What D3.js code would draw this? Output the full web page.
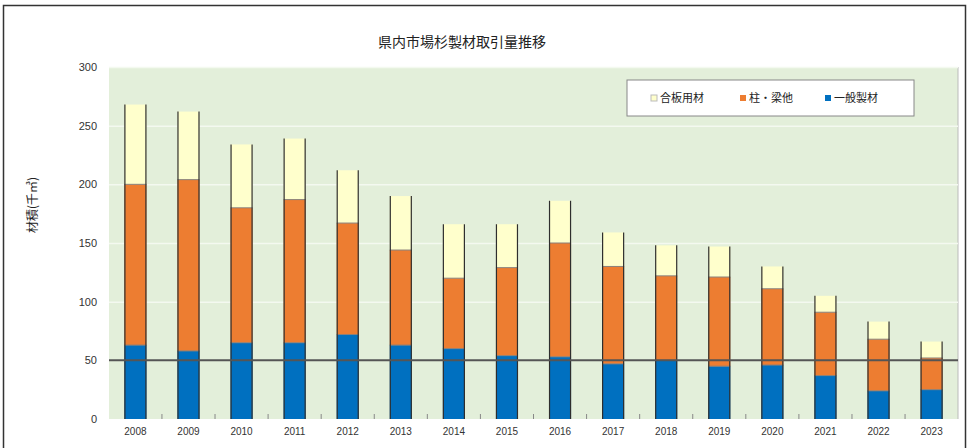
<!DOCTYPE html>
<html lang="ja">
<head>
<meta charset="utf-8">
<script src="https://cdn.jsdelivr.net/npm/d3@7"></script>
<style>
  html, body { margin: 0; padding: 0; background: #fff; }
  svg { display: block; font-family: "Noto Sans CJK JP", "Noto Sans", sans-serif; }
</style>
</head>
<body>
<svg id="chart" width="969" height="448"></svg>
<script>
// Years on the x axis
const years = ["2008","2009","2010","2011","2012","2013","2014","2015",
               "2016","2017","2018","2019","2020","2021","2022","2023"];
// Volumes per use class (千㎥), bottom to top of each stack
const ippanSeizai = [63, 58, 65, 65, 72, 63, 60, 54, 53, 47, 50, 45, 46, 37, 24, 25];
const hashiraHari = [137, 146, 115, 122, 95, 81, 60, 75, 97, 83, 72, 76, 65, 54, 44, 27];
const gouhanYouzai = [68, 58, 54, 52, 45, 46, 46, 37, 36, 29, 26, 26, 19, 14, 15, 14];
// Series names in stack order
const seriesNames = ["一般製材", "柱・梁他", "合板用材"];
const seriesColors = ["#0070c0", "#ed7d31", "#ffffcc"];
// Legend order as shown
const legendOrder = [2, 1, 0];
const yTicks = [0, 50, 100, 150, 200, 250, 300];

const svg = d3.select("#chart");
const plot = { left: 109, right: 958, top: 67, bottom: 419 };

// outer frame
svg.append("rect").attr("x", 3.5).attr("y", 5.5).attr("width", 962).attr("height", 460)
  .attr("fill", "#fff").attr("stroke", "#333").attr("stroke-width", 1.5);

const x = d3.scaleBand().domain(years).range([plot.left, plot.right]).paddingInner(0.585).paddingOuter(0.29);
const y = d3.scaleLinear().domain([0, 300]).range([plot.bottom, plot.top]);

// plot background
svg.append("rect").attr("x", plot.left).attr("y", plot.top)
  .attr("width", plot.right - plot.left).attr("height", plot.bottom - plot.top)
  .attr("fill", "#e3efda");
svg.append("line").attr("x1", plot.right).attr("x2", plot.right)
  .attr("y1", plot.top).attr("y2", plot.bottom).attr("stroke", "#bbb");

// horizontal gridlines
svg.append("g").selectAll("line").data(yTicks.filter(t => t > 0 && t !== 50)).join("line")
  .attr("x1", plot.left).attr("x2", plot.right)
  .attr("y1", d => y(d) + 0.5).attr("y2", d => y(d) + 0.5)
  .attr("stroke", "#f4f9f0").attr("stroke-width", 1.5);

// y axis labels
const yAxis = d3.axisLeft(y).tickValues(yTicks).tickSize(0).tickPadding(12);
const gy = svg.append("g").attr("transform", `translate(${plot.left},0)`).call(yAxis);
gy.select(".domain").remove();
gy.selectAll("text").attr("font-size", 11).attr("fill", "#333")
  .attr("font-family", "Liberation Sans, Arial, sans-serif");

// stacked bars
const rows = years.map((yr, i) => ({ year: yr, s0: ippanSeizai[i], s1: hashiraHari[i], s2: gouhanYouzai[i] }));
const stack = d3.stack().keys(["s0", "s1", "s2"]);
const layers = stack(rows);

svg.append("g").selectAll("g").data(layers).join("g")
  .attr("fill", (d, i) => seriesColors[i])
  .selectAll("rect").data(d => d).join("rect")
  .attr("x", d => x(d.data.year))
  .attr("y", d => y(d[1]))
  .attr("width", x.bandwidth())
  .attr("height", d => y(d[0]) - y(d[1]));

// thin separators between segments
svg.append("g").selectAll("g").data(layers.slice(1)).join("g")
  .selectAll("line").data(d => d).join("line")
  .attr("x1", d => x(d.data.year)).attr("x2", d => x(d.data.year) + x.bandwidth())
  .attr("y1", d => y(d[0])).attr("y2", d => y(d[0]))
  .attr("stroke", "#8a7f78").attr("stroke-width", 1);

// dark side edges of each bar
const topLayer = layers[layers.length - 1];
const edges = svg.append("g").attr("stroke", "#2e2e2e").attr("stroke-width", 1.2);
edges.selectAll("line.l").data(topLayer).join("line").attr("class", "l")
  .attr("x1", d => x(d.data.year) + 0.5).attr("x2", d => x(d.data.year) + 0.5)
  .attr("y1", d => y(d[1])).attr("y2", y(0));
edges.selectAll("line.r").data(topLayer).join("line").attr("class", "r")
  .attr("x1", d => x(d.data.year) + x.bandwidth() - 0.5).attr("x2", d => x(d.data.year) + x.bandwidth() - 0.5)
  .attr("y1", d => y(d[1])).attr("y2", y(0));

// reference line at 50
svg.append("line").attr("x1", plot.left).attr("x2", plot.right)
  .attr("y1", y(50)).attr("y2", y(50)).attr("stroke", "#555").attr("stroke-width", 2);

// category tick marks between bars
const step = x.step();
svg.append("g").selectAll("line").data(years.slice(1)).join("line")
  .attr("x1", d => x(d) - (step - x.bandwidth()) / 2)
  .attr("x2", d => x(d) - (step - x.bandwidth()) / 2)
  .attr("y1", plot.bottom - 5).attr("y2", plot.bottom)
  .attr("stroke", "#888");

// x axis labels
const xAxis = d3.axisBottom(x).tickSize(0).tickPadding(9);
const gx = svg.append("g").attr("transform", `translate(0,${plot.bottom})`).call(xAxis);
gx.select(".domain").remove();
gx.selectAll("text").attr("font-size", 10).attr("fill", "#333")
  .attr("font-family", "Liberation Sans, Arial, sans-serif");

// title
svg.append("text").attr("x", 462).attr("y", 47).attr("text-anchor", "middle")
  .attr("font-size", 14).attr("fill", "#222").text("県内市場杉製材取引量推移");

// y axis title
svg.append("text").attr("transform", "translate(37,205) rotate(-90)")
  .attr("text-anchor", "middle").attr("font-size", 12).attr("fill", "#222")
  .text("材積(千㎥)");

// legend
const lg = svg.append("g").attr("transform", "translate(627,80)");
lg.append("rect").attr("width", 287).attr("height", 36)
  .attr("fill", "#fff").attr("stroke", "#888");
const legendX = [24, 113, 198];
legendOrder.forEach((si, k) => {
  const g = lg.append("g").attr("transform", `translate(${legendX[k]},18)`);
  g.append("rect").attr("x", 0).attr("y", -3).attr("width", 6).attr("height", 6)
    .attr("fill", seriesColors[si]).attr("stroke", si === 2 ? "#bbb" : "none");
  g.append("text").attr("x", 9).attr("y", 4).attr("font-size", 11).attr("fill", "#222")
    .text(seriesNames[si]);
});
</script>
</body>
</html>
